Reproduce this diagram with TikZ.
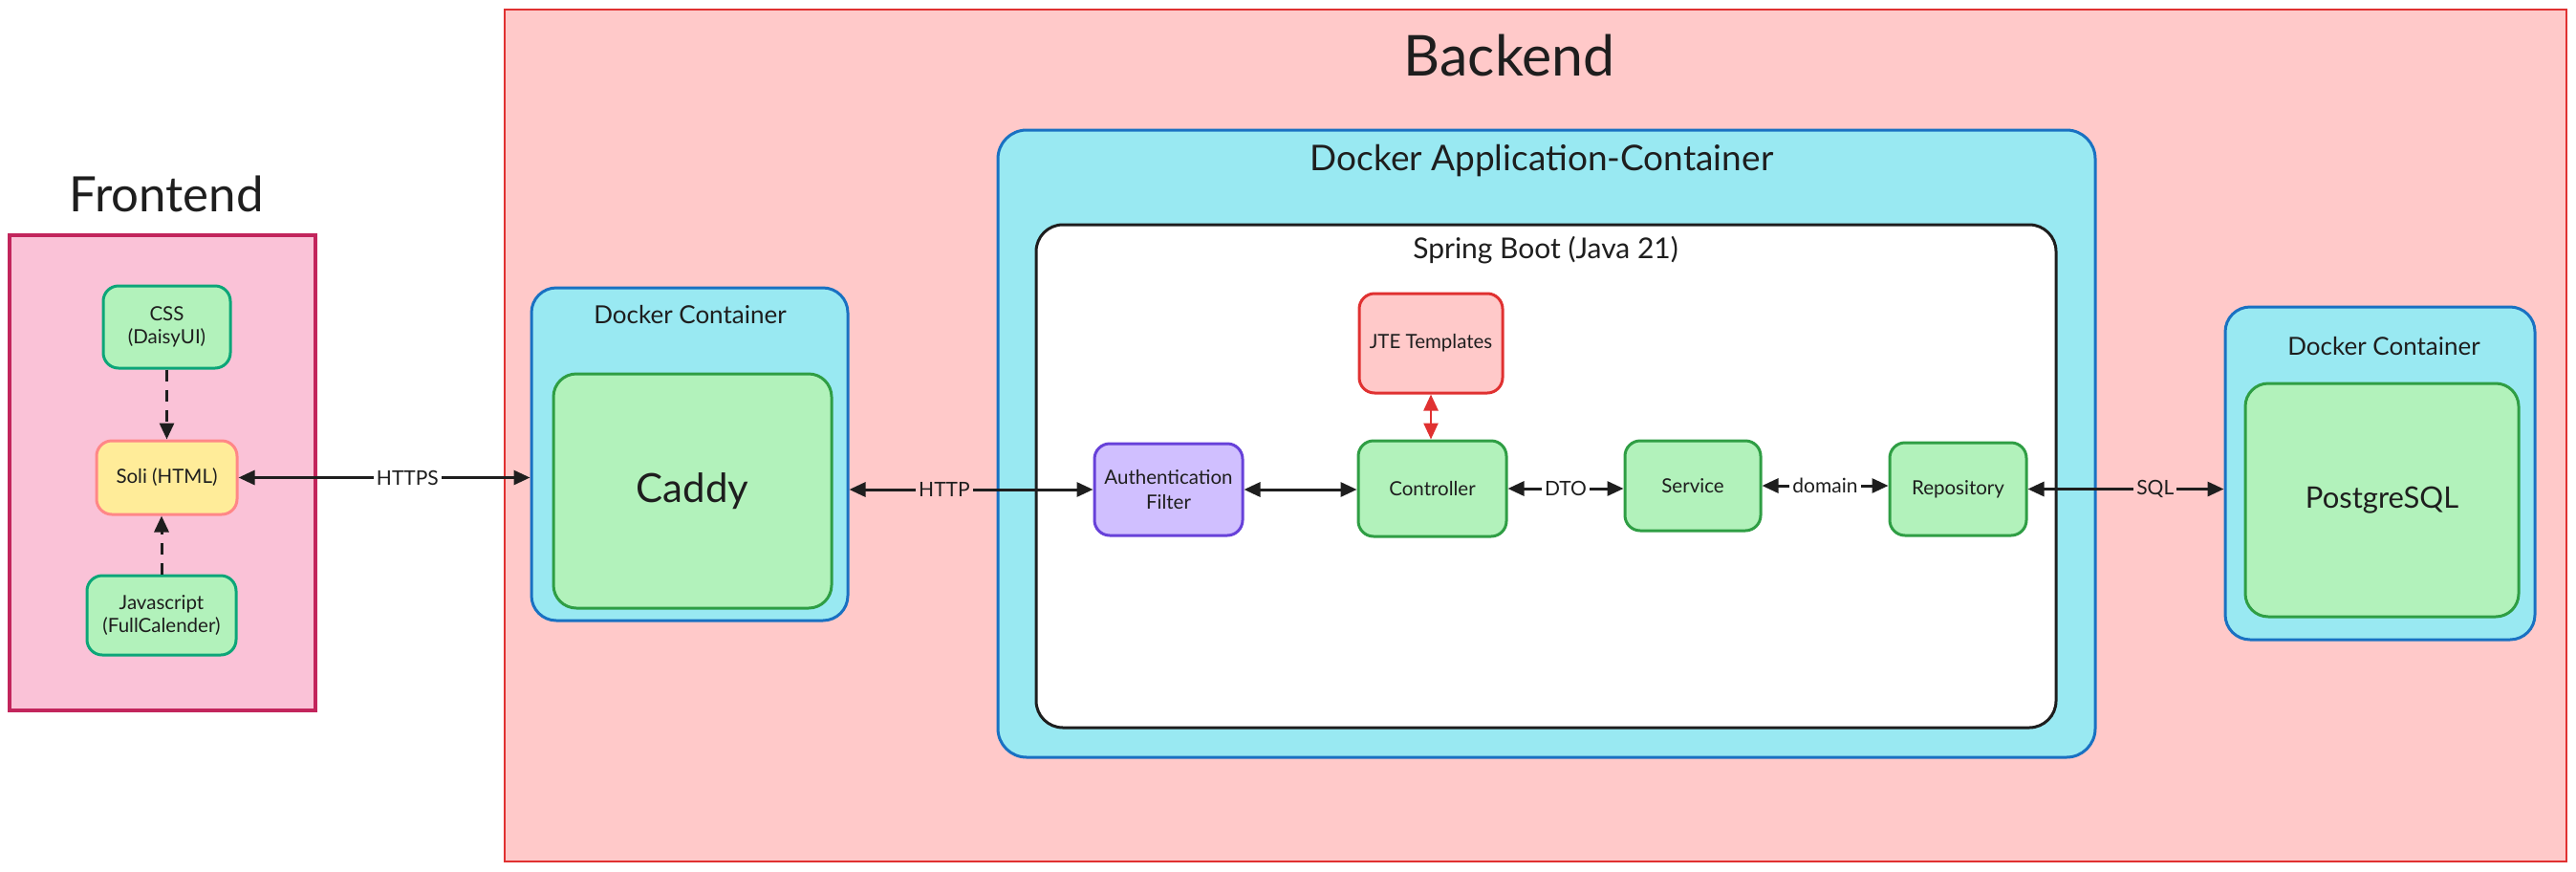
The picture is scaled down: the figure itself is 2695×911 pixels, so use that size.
\documentclass[tikz,border=0pt]{standalone}
\usepackage{fontspec}
\setmainfont{Lato}
\usetikzlibrary{arrows.meta}
\definecolor{ink}{HTML}{1E1E1E}
\definecolor{beFill}{HTML}{FFC9C9}
\definecolor{beStroke}{HTML}{E03131}
\definecolor{feFill}{HTML}{FAC2D7}
\definecolor{feStroke}{HTML}{C2255C}
\definecolor{dkFill}{HTML}{99E9F2}
\definecolor{dkStroke}{HTML}{1971C2}
\definecolor{grFill}{HTML}{B2F2BB}
\definecolor{grStroke}{HTML}{2F9E44}
\definecolor{tlStroke}{HTML}{0CA678}
\definecolor{ylFill}{HTML}{FFEC99}
\definecolor{ylStroke}{HTML}{FF8787}
\definecolor{vlFill}{HTML}{D0BFFF}
\definecolor{vlStroke}{HTML}{6741D9}
\newcommand{\fsz}[1]{\fontsize{#1}{#1}\selectfont}
\tikzset{
  box/.style={draw, line width=3pt, rounded corners=16pt, inner sep=0pt, align=center,
    text=ink, font=\fsz{20.5}, minimum width=#1},
  container/.style={draw=dkStroke, fill=dkFill, line width=3pt, rounded corners=26pt, inner sep=0pt},
  lbl/.style={text=ink, inner sep=0pt},
  conn/.style={draw=ink, line width=3pt, {Triangle[length=17pt,width=15pt]}-{Triangle[length=17pt,width=15pt]}},
  dashconn/.style={draw=ink, line width=3pt, dash pattern=on 12pt off 9pt, -{Triangle[length=17pt,width=15pt]}},
  elabel/.style={text=ink, font=\fsz{21}, inner sep=3pt}
}
\begin{document}
\begin{tikzpicture}[x=1pt,y=-1pt]
\useasboundingbox (0,0) rectangle (2695,911);
\fill[white] (0,0) rectangle (2695,911);

% Backend
\node[draw=beStroke, fill=beFill, line width=2.5pt, minimum width=2157pt, minimum height=891pt, inner sep=0pt] (backend) at (1606.5,455.5) {};
\node[lbl, font=\fsz{59}, anchor=base] (betitle) at (1579,79) {Backend};

% Frontend
\node[draw=feStroke, fill=feFill, line width=4pt, minimum width=320pt, minimum height=497pt, inner sep=0pt] (frontend) at (170,494.5) {};
\node[lbl, font=\fsz{51}, anchor=base] (fetitle) at (174,221) {Frontend};

\node[box=133pt, minimum height=86pt, fill=grFill, draw=tlStroke] (css) at (174.5,342) {CSS\\[4pt](DaisyUI)};
\node[box=147pt, minimum height=77pt, fill=ylFill, draw=ylStroke] (soli) at (174.5,499.5) {Soli (HTML)};
\node[box=156pt, minimum height=83pt, fill=grFill, draw=tlStroke] (js) at (169,643.5) {Javascript\\[4pt](FullCalender)};

\draw[dashconn] (css.south) -- (soli.north -| css.south);
\draw[dashconn] (js.north) -- (soli.south -| js.north);

% Caddy container
\node[container, minimum width=331pt, minimum height=348pt] (dc1) at (721.5,475) {};
\node[lbl, font=\fsz{26}] (dc1title) at (722,329) {Docker Container};
\node[box=291pt, minimum height=245pt, fill=grFill, draw=grStroke, rounded corners=24pt, font=\fsz{42}] (caddy) at (724.5,513.5) {Caddy};

% Application container
\node[container, minimum width=1148pt, minimum height=656pt, rounded corners=30pt] (app) at (1618,464) {};
\node[lbl, font=\fsz{37}] (apptitle) at (1613,168) {Docker Application-Container};
\node[draw=ink, fill=white, line width=3pt, rounded corners=28pt, minimum width=1067pt, minimum height=526pt, inner sep=0pt] (spring) at (1617.5,498) {};
\node[lbl, font=\fsz{30}] (springtitle) at (1617,262) {Spring Boot (Java 21)};

\node[box=150pt, minimum height=104pt, fill=beFill, draw=beStroke] (jte) at (1497,359) {JTE Templates};
\node[box=155pt, minimum height=96pt, fill=vlFill, draw=vlStroke] (auth) at (1222.5,512) {Authentication\\[6pt]Filter};
\node[box=155pt, minimum height=100pt, fill=grFill, draw=grStroke] (ctrl) at (1498.5,511) {Controller};
\node[box=142pt, minimum height=94pt, fill=grFill, draw=grStroke] (svc) at (1771,508) {Service};
\node[box=143pt, minimum height=97pt, fill=grFill, draw=grStroke] (repo) at (2048.5,511.5) {Repository};

% Postgres container
\node[container, minimum width=324pt, minimum height=348pt] (dc2) at (2490,495) {};
\node[lbl, font=\fsz{26}] (dc2title) at (2494,362) {Docker Container};
\node[box=286pt, minimum height=244pt, fill=grFill, draw=grStroke, rounded corners=24pt, font=\fsz{31}] (pg) at (2492,523) {PostgreSQL};

% Connectors
\draw[conn] (soli.east) -- node[elabel, fill=white, pos=0.58] (lhttps) {HTTPS} (soli.east -| dc1.west);
\draw[conn] (auth.west -| dc1.east) -- node[elabel, fill=beFill, pos=0.39] (lhttp) {HTTP} (auth.west);
\draw[conn] (auth.east) -- (auth.east -| ctrl.west);
\draw[conn] (ctrl.east) -- node[elabel, fill=white] (ldto) {DTO} (ctrl.east -| svc.west);
\draw[conn] (svc.east) -- node[elabel, fill=white] (ldomain) {domain} (svc.east -| repo.west);
\draw[conn] (repo.east) -- node[elabel, fill=beFill, pos=0.65] (lsql) {SQL} (repo.east -| dc2.west);
\draw[conn, draw=beStroke, fill=beStroke, line width=2.5pt] (jte.south) -- (jte.south |- ctrl.north);
\end{tikzpicture}
\end{document}
